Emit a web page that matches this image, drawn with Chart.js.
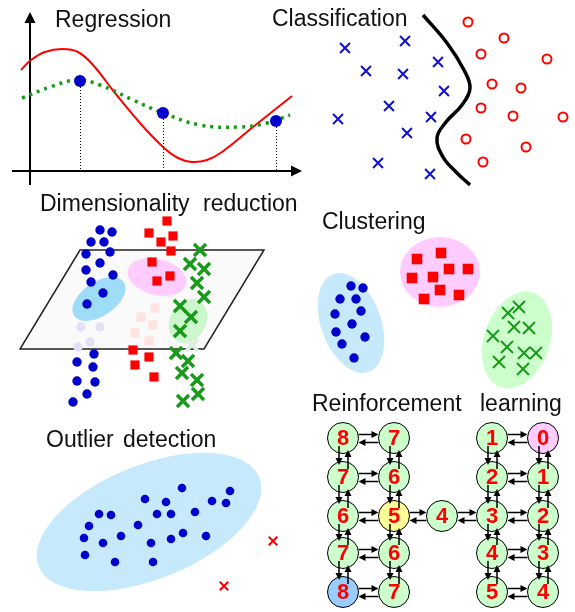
<!DOCTYPE html>
<html>
<head>
<meta charset="utf-8">
<script src="https://cdn.jsdelivr.net/npm/chart.js@4.4.1/dist/chart.umd.min.js"></script>
<style>
    body { margin: 0; background: #fff; }
    #wrap { width: 575px; height: 612px; }
</style>
</head>
<body>
<div id="wrap"><canvas id="grafico"></canvas></div>
<script>
// regression panel
const regRed = [[21,70],[31,60],[45,52],[62,49],[78,52],[93,65],[115,93],[140,123],[163,147],[178,158],[192,162],[207,160],[222,152],[253,127],[292,96]];
const regGreen = [[22,98],[50,87],[77,80],[100,85],[133,100],[163,113],[200,125],[240,127],[267,123],[290,115]];
const regDots = [[80,81],[163,113],[276,121]];
const regAxisY = 171;
const regAxes = [[30,185,30,12],[12,171,302,171]];

// classification panel
const clsBlue = [[345,48],[405,41],[366,71],[403,74],[438,62],[444,91],[389,106],[338,119],[431,117],[407,133],[378,163],[430,174]];
const clsRed = [[468,22],[504,38],[481,54],[547,59],[492,84],[521,88],[481,108],[513,116],[563,117],[466,139],[526,147],[483,162]];
const clsBoundary = [[423,15],[447,43],[464,70],[470,88],[462,105],[446,122],[437,138],[443,157],[456,172],[470,185]];

// dimensionality reduction panel
const plane = [[80,250],[264,250],[204,349],[20,349]];
const drBlue = [[100,230],[112,232],[91,242],[104,242],[86,254],[110,252],[86,270],[100,263],[91,282],[113,275],[103,293],[87,304],[94,354],[77,362],[93,367],[77,381],[95,382],[87,394],[73,402]];
const drBlueFaded = [[81,327],[100,327],[78,347],[90,342]];
const drRed = [[167,221],[149,233],[173,236],[161,242],[171,251],[152,262],[157,281],[170,276],[133,350],[149,357],[135,365],[154,377]];
const drRedFaded = [[155,308],[141,317],[153,325],[135,333],[149,341]];
const drGreen = [[200,250],[190,264],[204,269],[197,283],[204,297],[180,306],[191,317],[180,331],[176,353],[188,361],[182,373],[197,380],[198,394],[183,401]];
const drGreenFaded = [[192,345]];

// clustering panel
const cluBlue = [[351,286],[363,288],[340,299],[356,299],[361,311],[335,314],[352,324],[336,332],[365,337],[342,344],[354,358]];
const cluRed = [[417,259],[441,253],[449,269],[468,269],[412,278],[433,277],[440,290],[459,295],[424,299]];
const cluGreen = [[508,313],[519,307],[514,327],[529,328],[493,336],[507,347],[524,353],[536,353],[499,362],[523,369]];

// outlier detection panel
const odBlue = [[182,488],[230,491],[145,499],[166,502],[212,501],[226,503],[99,514],[111,515],[157,514],[171,514],[195,512],[89,526],[138,525],[84,538],[121,536],[183,533],[206,536],[103,543],[151,543],[171,539],[85,555],[115,562],[153,562]];
const odRed = [[273,541],[224,586]];

// ellipses: cx, cy, rx, ry, rotation (deg), colour
const ellipses = [
    [99,299,30,17,-34,"#9fdcf8"],
    [157,277,30,18,14,"#ffccff"],
    [188,321,23,18,-62,"#ccf6cc"],
    [440,272,40,35,0,"#ffccff"],
    [351,323,30,52,-20,"#c6e9fb"],
    [517,340,33,50,19,"#ccffcc"],
    [149,522,119,57,-22,"#c6e9fb"]
];

// reinforcement learning grid
const rlCols = [343,394,442,492,543];
const rlRows = [438,477,516,553,592];
const rlValues = [
    [8,7,6,7,8],
    [7,6,5,6,7],
    [null,null,4,null,null],
    [1,2,3,4,5],
    [0,1,2,3,4]
];
const rlSpecial = { "1,2": "#ffff99", "4,0": "#ffccff", "0,4": "#99ccff" };
const rlEdges = [
    [0,0,1,0],[0,1,1,1],[0,2,1,2],[0,3,1,3],[0,4,1,4],
    [1,2,2,2],[2,2,3,2],
    [3,0,4,0],[3,1,4,1],[3,2,4,2],[3,3,4,3],[3,4,4,4],
    [0,0,0,1],[0,1,0,2],[0,2,0,3],[0,3,0,4],
    [1,0,1,1],[1,1,1,2],[1,2,1,3],[1,3,1,4],
    [3,0,3,1],[3,1,3,2],[3,2,3,3],[3,3,3,4],
    [4,0,4,1],[4,1,4,2],[4,2,4,3],[4,3,4,4]
];
const rlRadius = 15.5;

// titles: word, left x, baseline y
const titles = [
    ["Regression",55,27],
    ["Classification",272,26],
    ["Dimensionality",40,211],
    ["reduction",203,211],
    ["Clustering",322,229],
    ["Outlier",46,447],
    ["detection",123,447],
    ["Reinforcement",312,411],
    ["learning",480,411]
];

const pts = a => a.map(p => ({ x: p[0], y: p[1] }));

function marks(data, style, color, radius, width, fill) {
    return {
        data: pts(data),
        showLine: false,
        pointStyle: style,
        pointRadius: radius,
        pointBorderColor: color,
        pointBackgroundColor: fill === undefined ? color : fill,
        pointBorderWidth: width,
        clip: false
    };
}

function curve(data, color, width, dash) {
    return {
        data: pts(data),
        showLine: true,
        pointRadius: 0,
        borderColor: color,
        borderWidth: width,
        borderDash: dash || [],
        tension: 0.4,
        clip: false
    };
}

const rlNodes = [];
const rlFills = [];
rlValues.forEach((col, c) => {
    col.forEach((v, r) => {
        if (v === null) return;
        rlNodes.push([rlCols[c], rlRows[r]]);
        rlFills.push(rlSpecial[c + "," + r] || "#ccffcc");
    });
});

function arrow(ctx, x1, y1, x2, y2, head, width) {
    const a = Math.atan2(y2 - y1, x2 - x1);
    ctx.lineWidth = width;
    ctx.beginPath();
    ctx.moveTo(x1, y1);
    ctx.lineTo(x2 - Math.cos(a) * head * 0.8, y2 - Math.sin(a) * head * 0.8);
    ctx.stroke();
    ctx.beginPath();
    ctx.moveTo(x2, y2);
    ctx.lineTo(x2 - head * Math.cos(a) + head * 0.5 * Math.sin(a), y2 - head * Math.sin(a) - head * 0.5 * Math.cos(a));
    ctx.lineTo(x2 - head * Math.cos(a) - head * 0.5 * Math.sin(a), y2 - head * Math.sin(a) + head * 0.5 * Math.cos(a));
    ctx.closePath();
    ctx.fill();
}

const drawing = {
    id: "drawing",
    beforeDatasetsDraw(chart) {
        const { ctx, scales: { x, y } } = chart;
        ctx.save();
        // plane
        ctx.beginPath();
        plane.forEach((p, i) => {
            const px = x.getPixelForValue(p[0]), py = y.getPixelForValue(p[1]);
            if (i === 0) ctx.moveTo(px, py); else ctx.lineTo(px, py);
        });
        ctx.closePath();
        ctx.fillStyle = "#fafafa";
        ctx.fill();
        ctx.strokeStyle = "#222";
        ctx.lineWidth = 1.5;
        ctx.stroke();
        // ellipses
        ellipses.forEach(e => {
            const cx = x.getPixelForValue(e[0]), cy = y.getPixelForValue(e[1]);
            const rx = x.getPixelForValue(e[0] + e[2]) - cx;
            const ry = Math.abs(y.getPixelForValue(e[1] + e[3]) - cy);
            ctx.beginPath();
            ctx.ellipse(cx, cy, rx, ry, e[4] * Math.PI / 180, 0, 2 * Math.PI);
            ctx.fillStyle = e[5];
            ctx.fill();
        });
        // regression guide lines
        ctx.strokeStyle = "#000";
        ctx.lineWidth = 1;
        ctx.setLineDash([1, 2]);
        regDots.forEach(d => {
            ctx.beginPath();
            ctx.moveTo(x.getPixelForValue(d[0]) + 0.5, y.getPixelForValue(d[1]));
            ctx.lineTo(x.getPixelForValue(d[0]) + 0.5, y.getPixelForValue(regAxisY));
            ctx.stroke();
        });
        ctx.setLineDash([]);
        // axes
        ctx.fillStyle = "#000";
        regAxes.forEach(a => {
            arrow(ctx, x.getPixelForValue(a[0]), y.getPixelForValue(a[1]),
                x.getPixelForValue(a[2]), y.getPixelForValue(a[3]), 11, 2);
        });
        ctx.restore();
    },
    afterDatasetsDraw(chart) {
        const { ctx, scales: { x, y } } = chart;
        ctx.save();
        // reinforcement arrows
        ctx.strokeStyle = "#000";
        ctx.fillStyle = "#000";
        rlEdges.forEach(e => {
            const x1 = x.getPixelForValue(rlCols[e[0]]), y1 = y.getPixelForValue(rlRows[e[1]]);
            const x2 = x.getPixelForValue(rlCols[e[2]]), y2 = y.getPixelForValue(rlRows[e[3]]);
            const r = rlRadius;
            if (y1 === y2) {
                arrow(ctx, x1 + r, y1 - 3.5, x2 - r, y1 - 3.5, 7, 1.5);
                arrow(ctx, x2 - r, y1 + 4.5, x1 + r, y1 + 4.5, 7, 1.5);
            } else {
                arrow(ctx, x1 - 4, y1 + 8, x1 - 4, y2 - 12, 7, 1.5);
                arrow(ctx, x1 + 5, y2 - 8, x1 + 5, y1 + 12, 7, 1.5);
            }
        });
        ctx.fillStyle = "#ff0000";
        ctx.font = 'bold 22px "Liberation Sans", Arial, sans-serif';
        ctx.textAlign = "center";
        ctx.textBaseline = "middle";
        rlValues.forEach((col, c) => {
            col.forEach((v, r) => {
                if (v === null) return;
                ctx.fillText(String(v), x.getPixelForValue(rlCols[c]), y.getPixelForValue(rlRows[r]) + 1);
            });
        });
        ctx.fillStyle = "#111";
        ctx.font = '23px "Liberation Sans", Arial, sans-serif';
        ctx.textAlign = "left";
        ctx.textBaseline = "alphabetic";
        titles.forEach(t => {
            ctx.fillText(t[0], x.getPixelForValue(t[1]), y.getPixelForValue(t[2]));
        });
        ctx.restore();
    }
};

const rlDataset = marks(rlNodes, "circle", "#000", rlRadius, 1, rlFills);

new Chart(document.getElementById("grafico"), {
    type: "scatter",
    data: {
        datasets: [
            rlDataset,
            marks(regDots, "circle", "#0000cc", 6, 0),
            curve(regGreen, "#1a9a1a", 3.5, [3, 5]),
            curve(regRed, "#ff0000", 2),
            marks(clsBlue, "crossRot", "#1010cc", 7, 2),
            marks(clsRed, "circle", "#ff0000", 4.5, 2, "rgba(0,0,0,0)"),
            curve(clsBoundary, "#000", 3.5),
            marks(drBlue, "circle", "#0000cc", 4.7, 0),
            marks(drBlueFaded, "circle", "#e2e2f6", 4.7, 0),
            marks(drRed, "rect", "#ff0000", 6.5, 0),
            marks(drRedFaded, "rect", "#ffe2e2", 6.5, 0),
            marks(drGreen, "crossRot", "#1a9a1a", 8.5, 3.5),
            marks(drGreenFaded, "crossRot", "#ddeedd", 8.5, 3.5),
            marks(cluBlue, "circle", "#0000cc", 4.7, 0),
            marks(cluRed, "rect", "#ff0000", 7.5, 0),
            marks(cluGreen, "crossRot", "#1a9a1a", 8.5, 2),
            marks(odBlue, "circle", "#0000cc", 4.3, 0),
            marks(odRed, "crossRot", "#ff0000", 6, 2)
        ]
    },
    options: {
        responsive: true,
        maintainAspectRatio: false,
        animation: false,
        layout: { padding: 0, autoPadding: false },
        scales: {
            x: { type: "linear", display: false, min: 0, max: 575 },
            y: { type: "linear", display: false, min: 0, max: 612, reverse: true }
        },
        plugins: {
            legend: { display: false },
            tooltip: { enabled: false }
        }
    },
    plugins: [drawing]
});
</script>
</body>
</html>
